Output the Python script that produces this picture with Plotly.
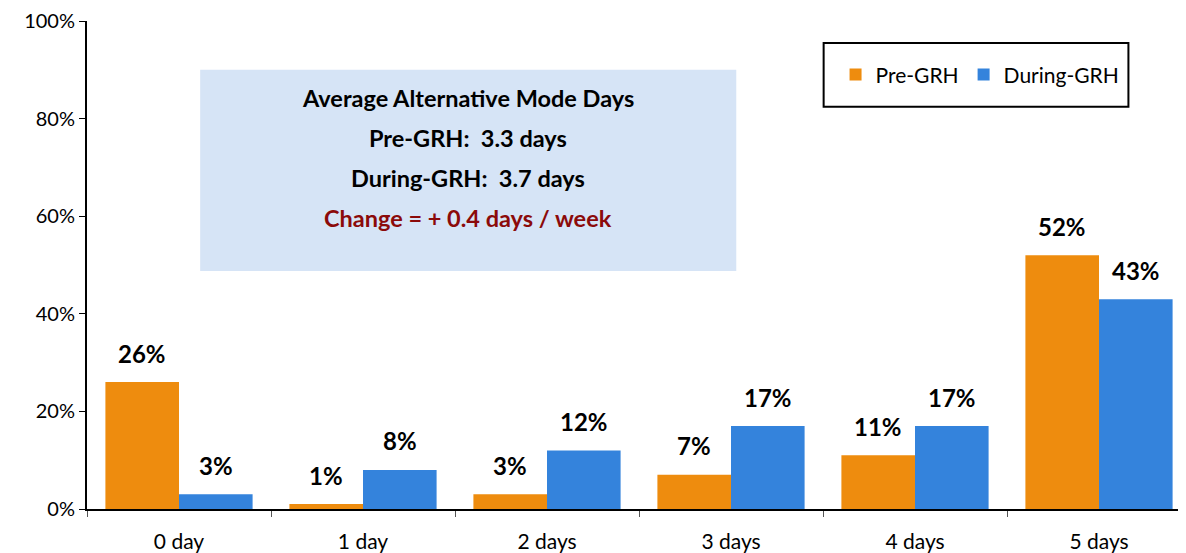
import plotly.graph_objects as go

categories = ["0 day", "1 day", "2 days", "3 days", "4 days", "5 days"]
pre_grh = [26, 1, 3, 7, 11, 52]
during_grh = [3, 8, 12, 17, 17, 43]
series_names = ["Pre-GRH", "During-GRH"]
y_ticks = [0, 20, 40, 60, 80, 100]
y_tick_labels = ["0%", "20%", "40%", "60%", "80%", "100%"]
box_lines = ["Average Alternative Mode Days", "Pre-GRH:  3.3 days",
             "During-GRH:  3.7 days", "Change = + 0.4 days / week"]

ORANGE = "#EE8C0E"
BLUE = "#3483DC"
FONT = "Lato"

# page offset (body margin of the html page)
OFF = 8
L, T, B = 87, 21, 511          # plot area edges in page pixels
PW, PH = 1186 + OFF - L, B - T  # plot width/height (right edge cut by window)


def px_x(x):
    return (x - L) / PW


def px_y(y):
    return (B - y) / PH


fig = go.Figure()
fig.add_trace(go.Bar(x=categories, y=pre_grh, name=series_names[0],
                     marker=dict(color=ORANGE, line=dict(width=0))))
fig.add_trace(go.Bar(x=categories, y=during_grh, name=series_names[1],
                     marker=dict(color=BLUE, line=dict(width=0))))

# data labels
for i, (a, b) in enumerate(zip(pre_grh, during_grh)):
    for off, v in ((-0.2, a), (0.2, b)):
        fig.add_annotation(x=i + off, y=v, xref="x", yref="y", text=f"<b>{v}%</b>",
                           showarrow=False, yshift=29, xanchor="center", yanchor="middle",
                           font=dict(family=FONT, size=24, color="black"))

# info box
fig.add_shape(type="rect", xref="paper", yref="paper", x0=px_x(201), x1=px_x(741),
              y0=px_y(272), y1=px_y(70), fillcolor="#D6E4F6", line=dict(width=0),
              layer="below")
ys = [98, 138, 179, 219]
colors = ["black", "black", "black", "#8B0A0A"]
for t, yy, c in zip(box_lines, ys, colors):
    fig.add_annotation(x=px_x(471), y=px_y(yy), xref="paper", yref="paper",
                       text=f"<b>{t}</b>", showarrow=False, xanchor="center",
                       yanchor="middle", font=dict(family=FONT, size=23.5, color=c))

# legend box
fig.add_shape(type="rect", xref="paper", yref="paper",
              x0=px_x(829), x1=px_x(1136), y0=px_y(107), y1=px_y(43),
              line=dict(color="black", width=2), fillcolor="white", layer="below")

fig.update_layout(
    width=1186 - OFF, height=553 - OFF,
    margin=dict(l=L - OFF, r=0, t=T - OFF, b=553 - B),
    plot_bgcolor="white", paper_bgcolor="white",
    barmode="group", bargap=0.2, bargroupgap=0,
    font=dict(family=FONT, size=20, color="black"),
    legend=dict(orientation="h", x=px_x(841), y=px_y(75), xanchor="left",
                yanchor="middle", bgcolor="rgba(0,0,0,0)", borderwidth=0,
                font=dict(size=21)),
    xaxis=dict(range=[-0.5, 5.5 - (1191 - 1186) / 184],
               showline=True, linecolor="black", linewidth=2,
               ticks="outside", tickson="boundaries", ticklen=6, tickcolor="#555",
               showgrid=False, tickfont=dict(size=21), ticklabelstandoff=13),
    yaxis=dict(range=[0, 100], tickvals=y_ticks, ticktext=y_tick_labels,
               showline=True, linecolor="black", linewidth=2, ticks="outside",
               ticklen=6, tickcolor="black", showgrid=False, zeroline=False,
               tickfont=dict(size=20)),
)

fig.write_html("out.html")
